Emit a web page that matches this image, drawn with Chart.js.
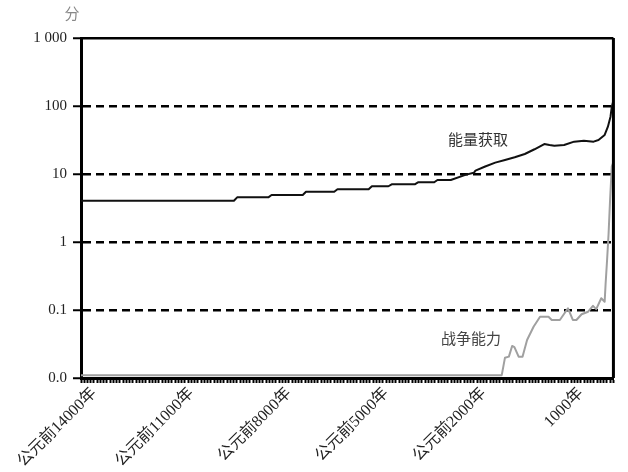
<!DOCTYPE html>
<html>
<head>
<meta charset="utf-8">
<script src="https://cdn.jsdelivr.net/npm/chart.js@4/dist/chart.umd.min.js"></script>
<style>
	html, body { margin: 0; padding: 0; background: #fff; }
	#wrap { width: 628px; height: 472px; }
</style>
</head>
<body>
<div id="wrap"><canvas id="chart"></canvas></div>
<script>
"use strict";

// x values are years (negative = BCE)
const energyYears = [-14400, -9690, -9590, -8630, -8530, -7570, -7470, -6600, -6500, -5540, -5440, -4930, -4830, -4120, -4020, -3520, -3420, -3010, -2560, -2300, -2250, -1950, -1640, -1340, -1040, -730, -430, -130, 30, 180, 480, 790, 1090, 1390, 1540, 1730, 1830, 1910, 1950, 2000];
const energyValues = [4.05, 4.05, 4.54, 4.54, 4.91, 4.91, 5.49, 5.49, 5.96, 5.96, 6.6, 6.6, 7.06, 7.06, 7.55, 7.55, 8.16, 8.16, 9.7, 10.4, 11.2, 12.9, 14.7, 16.1, 17.6, 19.7, 23.1, 27.6, 26.7, 26.1, 26.7, 29.9, 30.9, 29.9, 31.6, 37.5, 49.6, 69.6, 97.7, 120];

const warYears = [-14400, -1440, -1340, -1220, -1120, -1050, -920, -800, -660, -460, -260, 0, 100, 350, 600, 750, 860, 1020, 1220, 1370, 1470, 1625, 1730, 1760, 1800, 1850, 1900, 1950, 2000];
const warValues = [0.011, 0.011, 0.0199, 0.0206, 0.0296, 0.0284, 0.0206, 0.0206, 0.0362, 0.0568, 0.0797, 0.0797, 0.0713, 0.0713, 0.106, 0.0713, 0.0713, 0.0865, 0.0944, 0.115, 0.103, 0.149, 0.132, 0.247, 0.5, 1.3, 4.5, 13, 15];

const xLabelYears = [-14000, -11000, -8000, -5000, -2000, 1000];
const yTickValues = [0.01, 0.1, 1, 10, 100, 1000];
const yTickLabels = ["0.0", "0.1", "1", "10", "100", "1 000"];

const fontFamily = "'Liberation Serif', 'Noto Sans CJK SC', serif";

function toPoints(xs, ys) {
	return xs.map((x, i) => ({ x: x, y: ys[i] }));
}

const frame = {
	id: "frame",
	afterDraw(chart) {
		const { ctx, chartArea } = chart;
		ctx.save();
		ctx.strokeStyle = "#000";
		ctx.lineWidth = 3;
		ctx.beginPath();
		ctx.moveTo(chartArea.right, chartArea.top);
		ctx.lineTo(chartArea.right, chartArea.bottom);
		ctx.stroke();

		ctx.font = "15px " + fontFamily;
		ctx.textBaseline = "middle";
		ctx.textAlign = "center";
		ctx.fillStyle = "#888";
		ctx.fillText("分", chartArea.left - 9, 15);

		ctx.textAlign = "left";
		ctx.fillStyle = "#333";
		ctx.fillText("能量获取", chartArea.left + 367, 141);
		ctx.fillStyle = "#444";
		ctx.fillText("战争能力", chartArea.left + 360, 340);
		ctx.restore();
	}
};

new Chart(document.getElementById("chart"), {
	type: "line",
	data: {
		datasets: [
			{
				label: "战争能力",
				data: toPoints(warYears, warValues),
				borderColor: "#a0a0a0",
				borderWidth: 2,
				pointRadius: 0,
				tension: 0,
				borderJoinStyle: "round"
			},
			{
				label: "能量获取",
				data: toPoints(energyYears, energyValues),
				borderColor: "#111",
				borderWidth: 2,
				pointRadius: 0,
				tension: 0,
				borderJoinStyle: "round"
			}
		]
	},
	options: {
		responsive: true,
		maintainAspectRatio: false,
		animation: false,
		layout: { padding: { top: 38, right: 9, left: 0, bottom: 0 } },
		plugins: {
			legend: { display: false },
			tooltip: { enabled: false }
		},
		scales: {
			x: {
				type: "linear",
				min: -14400,
				max: 2000,
				afterFit(scale) { scale.height = 94; },
				ticks: {
					stepSize: 100,
					autoSkip: false,
					maxRotation: 45,
					minRotation: 45,
					padding: 1,
					color: "#222",
					font: { family: fontFamily, size: 16 },
					callback(value) {
						const v = Math.round(value);
						if (!xLabelYears.includes(v)) return "";
						return v < 0 ? "公元前" + (-v) + "年" : v + "年";
					}
				},
				grid: {
					drawOnChartArea: false,
					drawTicks: true,
					tickLength: 5,
					tickWidth: 2,
					tickColor: "#000"
				},
				border: { display: true, color: "#000", width: 3 }
			},
			y: {
				type: "logarithmic",
				min: 0.01,
				max: 1000,
				afterFit(scale) { scale.width = 81; },
				afterBuildTicks(scale) {
					scale.ticks = yTickValues.map(v => ({ value: v }));
				},
				ticks: {
					padding: 6,
					color: "#222",
					font: { family: fontFamily, size: 15 },
					callback(value) {
						const i = yTickValues.findIndex(v => Math.abs(v - value) < v * 1e-6);
						return i >= 0 ? yTickLabels[i] : "";
					}
				},
				grid: {
					color: "#000",
					lineWidth: 2.5,
					drawTicks: true,
					tickLength: 8,
					tickWidth: 2,
					tickColor: "#000"
				},
				border: {
					display: true,
					color: "#000",
					width: 3,
					dash: (ctx) => {
						if (!ctx.tick) return [];
						const v = ctx.tick.value;
						return (v > 0.05 && v < 500) ? [8, 5] : [];
					}
				}
			}
		}
	},
	plugins: [frame]
});
</script>
</body>
</html>
